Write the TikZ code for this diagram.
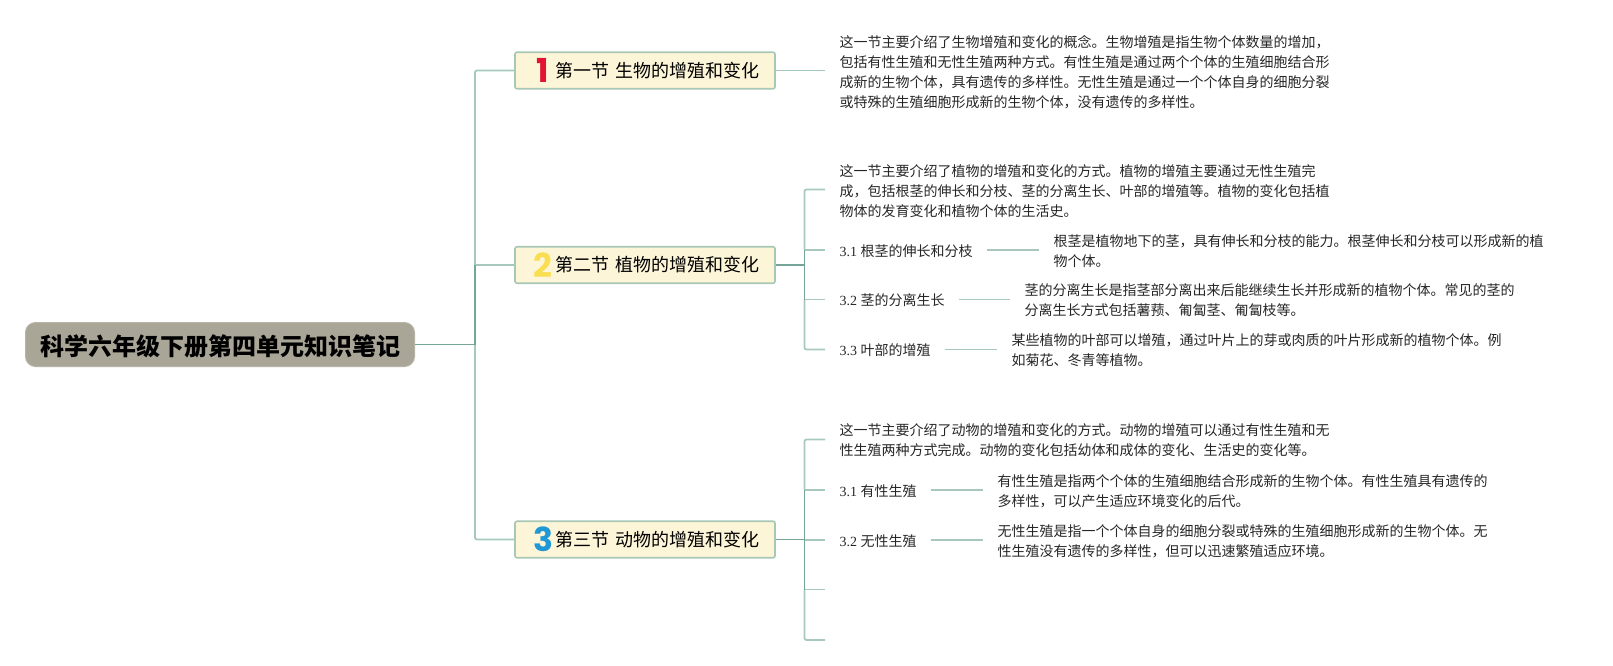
\documentclass[tikz,border=0pt]{standalone}
\usepackage{fontspec}
\usepackage{xcolor}
\usetikzlibrary{positioning,calc}
\setmainfont{Liberation Serif}
\newfontfamily\cjk{Noto Sans CJK SC}
\newfontfamily\numfont{Poppins}
\definecolor{rootgray}{RGB}{169, 166, 152}
\definecolor{secfill}{RGB}{253, 245, 216}
\definecolor{secedge}{RGB}{167, 200, 180}
\definecolor{branchgreen}{RGB}{166, 200, 189}
\definecolor{stemgreen}{RGB}{116, 165, 152}
\definecolor{numred}{RGB}{226, 20, 50}
\definecolor{numyellow}{RGB}{248, 222, 80}
\definecolor{numblue}{RGB}{32, 152, 214}
\definecolor{inktext}{RGB}{38, 38, 38}

\begin{document}
\begin{tikzpicture}[
    x=1pt, y=-1pt,
    every node/.style={align=left},
    rootbox/.style={rectangle, rounded corners=10pt, minimum width=389pt, minimum height=44pt, text height=24.5pt, text depth=3pt, draw=rootgray!85, fill=rootgray, line width=1pt, align=center, text=black, font=\cjk\bfseries\fontsize{24}{28}\selectfont},
    secbox/.style={rectangle, rounded corners=2pt, minimum width=260pt, minimum height=36.5pt, text width=229pt, inner xsep=15pt, align=right, draw=secedge, fill=secfill, line width=1.6pt, text=black, font=\cjk\fontsize{18}{22}\selectfont},
    secnum/.style={inner sep=0pt, font=\numfont\bfseries\fontsize{33}{33}\selectfont},
    note/.style={inner xsep=14.5pt, inner ysep=0pt, text=inktext, font=\cjk\fontsize{14}{20}\selectfont},
    sublabel/.style={inner xsep=14.5pt, inner ysep=2pt, text height=14.5pt, text depth=1.7pt, text=inktext, font=\fontsize{14}{20}\selectfont},
    branch/.style={draw=branchgreen, line width=1.8pt},
    stem/.style={draw=stemgreen, line width=1.9pt}
]
\useasboundingbox (0,0) rectangle (1613,665);

% Root and sections
\node[rootbox] (root) at (220,344.5) {科学六年级下册第四单元知识笔记};
\node[secbox] (sec1) at (645,70.5) {第一节 生物的增殖和变化};
\node[secbox] (sec2) at (645,265) {第二节 植物的增殖和变化};
\node[secbox] (sec3) at (645,539.5) {第三节 动物的增殖和变化};
\node[secnum, text=numred] (num1) at (543,70.5) {1};
\node[secnum, text=numyellow] (num2) at (543,265) {2};
\node[secnum, text=numblue] (num3) at (543,539.5) {3};

% Section one
\node[note, anchor=west] (text1) at (825,72) {这一节主要介绍了生物增殖和变化的概念。生物增殖是指生物个体数量的增加，\\包括有性生殖和无性生殖两种方式。有性生殖是通过两个个体的生殖细胞结合形\\成新的生物个体，具有遗传的多样性。无性生殖是通过一个个体自身的细胞分裂\\或特殊的生殖细胞形成新的生物个体，没有遗传的多样性。};

% Section two
\node[note, anchor=west] (text2) at (825,191.5) {这一节主要介绍了植物的增殖和变化的方式。植物的增殖主要通过无性生殖完\\成，包括根茎的伸长和分枝、茎的分离生长、叶部的增殖等。植物的变化包括植\\物体的发育变化和植物个体的生活史。};
\node[sublabel, anchor=west] (sub21) at (825,250) {3.1 {\cjk 根茎的伸长和分枝}};
\node[sublabel, anchor=west] (sub22) at (825,299.5) {3.2 {\cjk 茎的分离生长}};
\node[sublabel, anchor=west] (sub23) at (825,349.5) {3.3 {\cjk 叶部的增殖}};
\node[note, anchor=west] (desc21) at (1039,251) {根茎是植物地下的茎，具有伸长和分枝的能力。根茎伸长和分枝可以形成新的植\\物个体。};
\node[note, anchor=west] (desc22) at (1010,300.5) {茎的分离生长是指茎部分离出来后能继续生长并形成新的植物个体。常见的茎的\\分离生长方式包括薯蓣、匍匐茎、匍匐枝等。};
\node[note, anchor=west] (desc23) at (997,350.5) {某些植物的叶部可以增殖，通过叶片上的芽或肉质的叶片形成新的植物个体。例\\如菊花、冬青等植物。};

% Section three
\node[note, anchor=west] (text3) at (825,440.5) {这一节主要介绍了动物的增殖和变化的方式。动物的增殖可以通过有性生殖和无\\性生殖两种方式完成。动物的变化包括幼体和成体的变化、生活史的变化等。};
\node[sublabel, anchor=west] (sub31) at (825,490) {3.1 {\cjk 有性生殖}};
\node[sublabel, anchor=west] (sub32) at (825,540) {3.2 {\cjk 无性生殖}};
\node[note, anchor=west] (desc31) at (983,491) {有性生殖是指两个个体的生殖细胞结合形成新的生物个体。有性生殖具有遗传的\\多样性，可以产生适应环境变化的后代。};
\node[note, anchor=west] (desc32) at (983,541) {无性生殖是指一个个体自身的细胞分裂或特殊的生殖细胞形成新的生物个体。无\\性生殖没有遗传的多样性，但可以迅速繁殖适应环境。};

% Junctions and free ends
\coordinate (trunk) at (475,344.5);
\coordinate (bus2) at (804.5,265);
\coordinate (bus3) at (804.5,539.5);
\coordinate (end20) at (825,189.5);
\coordinate (end30) at (825,439.5);
\coordinate (end33) at (825,589.5);
\coordinate (end34) at (825,640);

% Connections
\draw[branch, rounded corners=2pt] (trunk) |- (sec1.west);
\draw[branch, rounded corners=2pt] (trunk) |- (sec3.west);
\draw[branch] (trunk |- sec2.west) -- (sec2.west);
\draw[stem] (trunk |- sec2.west) -- (trunk);
\draw[stem] (root.east) -- (trunk);
\draw[branch] (sec1.east) -- (text1.west |- sec1.east);

\draw[branch, rounded corners=2pt] (bus2 |- sub21.west) |- (end20);
\draw[branch] (bus2 |- sub21.west) -- (sub21.west);
\draw[branch] (bus2 |- sub22.west) -- (sub22.west);
\draw[branch, rounded corners=2pt] (bus2 |- sub22.west) |- (sub23.west);
\draw[stem] (bus2 |- sub21.west) -- (bus2 |- sub22.west);
\draw[stem] (sec2.east) -- (bus2);
\draw[branch] (sub21.east) -- (sub21.east -| desc21.west);
\draw[branch] (sub22.east) -- (sub22.east -| desc22.west);
\draw[branch] (sub23.east) -- (sub23.east -| desc23.west);

\draw[branch, rounded corners=2pt] (bus3 |- sub31.west) |- (end30);
\draw[branch] (bus3 |- sub31.west) -- (sub31.west);
\draw[branch] (bus3 |- sub32.west) -- (sub32.west);
\draw[branch] (bus3 |- end33) -- (end33);
\draw[branch, rounded corners=2pt] (bus3 |- end33) |- (end34);
\draw[stem] (bus3 |- sub31.west) -- (bus3 |- end33);
\draw[stem] (sec3.east) -- (bus3);
\draw[branch] (sub31.east) -- (sub31.east -| desc31.west);
\draw[branch] (sub32.east) -- (sub32.east -| desc32.west);

\end{tikzpicture}
\end{document}
